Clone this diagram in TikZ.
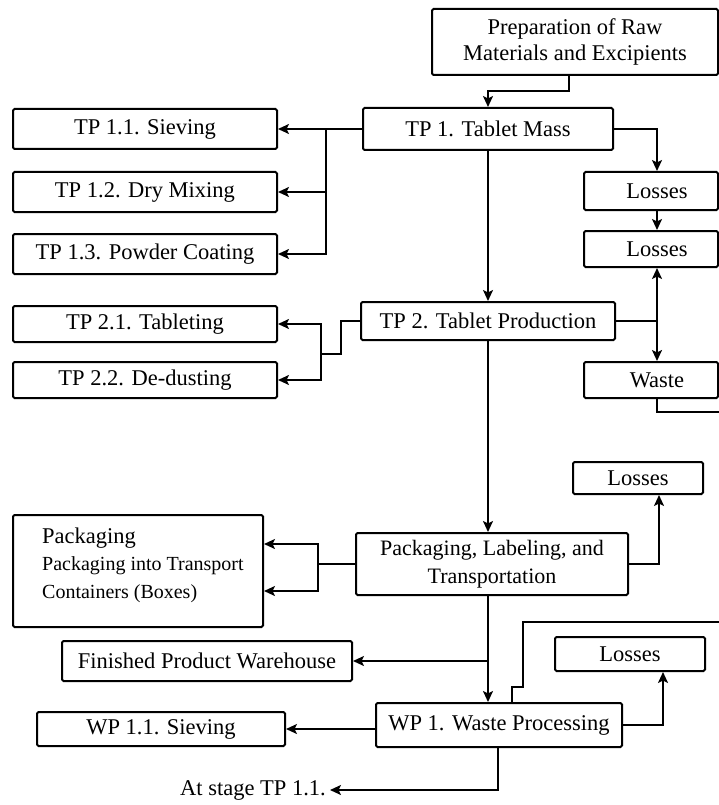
\documentclass[tikz,border=0pt]{standalone}
\usepackage{fontspec}
\setmainfont{Liberation Serif}
\usetikzlibrary{arrows.meta,calc}
\begin{document}
\begin{tikzpicture}[x=1pt,y=-1pt,
  box/.style={draw,line width=2pt,rounded corners=1.5pt,inner sep=0pt,align=center,font=\fontsize{22.5}{26.5}\selectfont},
  ln/.style={line width=2pt},
  arr/.style={line width=2pt,-{Stealth[length=11pt,width=10pt,inset=2.5pt]}}]
\useasboundingbox (0,0) rectangle (719,805);
\node[box,minimum width=286pt,minimum height=66pt] (prep) at (575,42) {Preparation of Raw\\Materials and Excipients};
\node[box,minimum width=250pt,minimum height=42pt] (tp1) at (488,129) {TP 1. Tablet Mass};
\node[box,minimum width=264pt,minimum height=40pt] (s11) at (145,129) {TP 1.1. Sieving};
\node[box,minimum width=264pt,minimum height=40pt] (s12) at (145,192) {TP 1.2. Dry Mixing};
\node[box,minimum width=264pt,minimum height=40pt] (s13) at (145,254) {TP 1.3. Powder Coating};
\node[box,minimum width=134pt,minimum height=38pt] (los1) at (651,191) {\hspace*{12pt}Losses};
\node[box,minimum width=134pt,minimum height=36pt] (los2) at (651,249) {\hspace*{12pt}Losses};
\node[box,minimum width=254pt,minimum height=38pt] (tp2) at (488,321) {TP 2. Tablet Production};
\node[box,minimum width=264pt,minimum height=36pt] (s21) at (145,324) {TP 2.1. Tableting};
\node[box,minimum width=264pt,minimum height=36pt] (s22) at (145,380) {TP 2.2. De-dusting};
\node[box,minimum width=134pt,minimum height=36pt] (waste) at (651,380) {\hspace*{12pt}Waste};
\node[box,minimum width=130pt,minimum height=32pt] (los3) at (638,478) {Losses};
\node[box,minimum width=272pt,minimum height=62pt,font=\fontsize{22}{27.5}\selectfont] (pl) at (492,564) {Packaging, Labeling, and\\Transportation};
\node[box,minimum width=250pt,minimum height=112pt] (pack) at (138,571) {};
\node[anchor=west,align=left,inner sep=0pt,font=\fontsize{20}{27.5}\selectfont] (packtext) at (42,565) {{\fontsize{22.5}{27.5}\selectfont Packaging}\\Packaging into Transport\\Containers (Boxes)};
\node[box,minimum width=290pt,minimum height=40pt] (fpw) at (207,661) {Finished Product Warehouse};
\node[box,minimum width=150pt,minimum height=34pt] (los4) at (630,654) {Losses};
\node[box,minimum width=246pt,minimum height=44pt] (wp1) at (499,725) {WP 1. Waste Processing};
\node[box,minimum width=248pt,minimum height=34pt] (wp11) at (161,729) {WP 1.1. Sieving};
\node[font=\fontsize{22.5}{26.5}\selectfont,inner sep=4pt,anchor=east] (stage) at (330,790) {At stage TP 1.1.};

\draw[arr] ($(prep.south)+(-6,0)$) -- ++(0,15) -| (tp1.north);
\draw[arr] (tp1.west) -- (s11.east);
\coordinate (b1) at (326,129);
\draw[arr] (b1) |- (s12.east);
\draw[arr] (b1) |- (s13.east);
\coordinate (r1) at (657,129);
\draw[arr] (tp1.east) -- (r1) -- (r1 |- los1.north);
\draw[arr] (r1 |- los1.south) -- (r1 |- los2.north);
\draw[ln] (tp2.east) -- (tp2.east -| r1);
\draw[arr] (tp2.east -| r1) -- (r1 |- los2.south);
\draw[arr] (tp2.east -| r1) -- (r1 |- waste.north);
\coordinate (e1) at (719,412);
\draw[ln] (r1 |- waste.south) |- (e1);
\draw[arr] (tp1.south) -- (tp1.south |- tp2.north);
\coordinate (b2) at (321,354);
\draw[ln] (tp2.west) -- ++(-19,0) |- (b2);
\draw[arr] (b2) |- (s21.east);
\draw[arr] (b2) |- (s22.east);
\draw[arr] (tp2.south) -- (tp2.south |- pl.north);
\coordinate (b3) at (318,564);
\draw[ln] (pl.west) -- (b3);
\coordinate (k1) at (318,544);
\coordinate (k2) at (318,591);
\draw[arr] (b3) -- (k1) -- (k1 -| pack.east);
\draw[arr] (b3) -- (k2) -- (k2 -| pack.east);
\coordinate (r3) at (659,564);
\draw[arr] (pl.east) -- (r3) -- (r3 |- los3.south);
\coordinate (v1) at (488,595);
\draw[arr] (v1) -- (v1 |- wp1.north);
\draw[arr] (v1 |- fpw.east) -- (fpw.east);
\coordinate (w1) at (512,703);
\coordinate (w2) at (523,687);
\coordinate (e2) at (719,622);
\draw[ln] (w1) |- (w2) |- (e2);
\coordinate (r4) at (663,725);
\draw[arr] (wp1.east) -- (r4) -- (r4 |- los4.south);
\draw[arr] (wp1.west |- wp11.east) -- (wp11.east);
\coordinate (d1) at (498,747);
\draw[arr] (d1) |- (stage.east);
\end{tikzpicture}
\end{document}
